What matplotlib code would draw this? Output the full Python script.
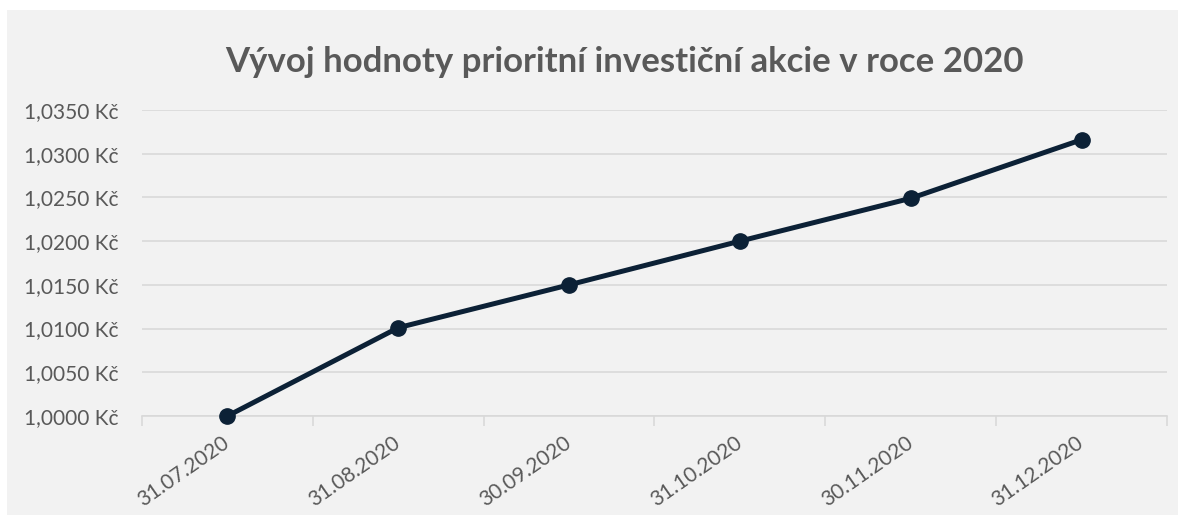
import matplotlib
matplotlib.use("Agg")
import matplotlib.pyplot as plt
from matplotlib.patches import Rectangle
from matplotlib.ticker import FuncFormatter, MultipleLocator

categories = ["31.07.2020", "31.08.2020", "30.09.2020", "31.10.2020", "30.11.2020", "31.12.2020"]
values = [1.0000, 1.0101, 1.0150, 1.0200, 1.0249, 1.0316]
title = "Vývoj hodnoty prioritní investiční akcie v roce 2020"

plt.rcParams['font.family'] = ['Lato', 'DejaVu Sans']

W, H = 1186, 526
fig = plt.figure(figsize=(W/100, H/100), dpi=100)
fig.patch.set_facecolor("white")
fig.patches.append(Rectangle((7/W, 1-515/H), (1178-7)/W, (515-10)/H,
                             transform=fig.transFigure, facecolor="#f2f2f2",
                             edgecolor="none", zorder=-5))

ax = fig.add_axes([142/W, 1-416/H, (1167-142)/W, (416-110)/H])
ax.set_facecolor("none")
x = list(range(len(categories)))
ax.plot(x, values, color="#0c2136", lw=3.6, marker="o", markersize=11, zorder=3,
        solid_capstyle="round", clip_on=False)
ax.set_xlim(-0.5, len(categories)-0.5)
ax.set_ylim(1.0, 1.035)
ax.yaxis.set_major_locator(MultipleLocator(0.005))
ax.yaxis.set_major_formatter(FuncFormatter(lambda v, p: f"{v:.4f}".replace(".", ",") + " Kč"))
ax.grid(axis="y", color="#d9d9d9", lw=1.2)
ax.set_axisbelow(True)
for s in ["top", "right", "left"]:
    ax.spines[s].set_visible(False)
ax.spines["bottom"].set_color("#d9d9d9")
ax.spines["bottom"].set_linewidth(1.2)

ax.set_xticks([i - 0.5 for i in range(len(categories)+1)], minor=False)
ax.set_xticklabels([])
ax.tick_params(axis="x", which="major", length=7, color="#d9d9d9", width=1.2)
ax.set_xticks(x, minor=True)
ax.set_xticklabels(categories, minor=True, rotation=35, ha="right", va="center",
                   rotation_mode="anchor", fontsize=15, color="#595959")
ax.tick_params(axis="x", which="minor", length=0, pad=18)
ax.tick_params(axis="y", length=0, labelsize=15, labelcolor="#595959", pad=17)

fig.text(624/W, 1-72/H, title, ha="center", va="baseline", fontsize=25,
         fontweight="bold", color="#595959")

fig.savefig("out.png", dpi=100)
